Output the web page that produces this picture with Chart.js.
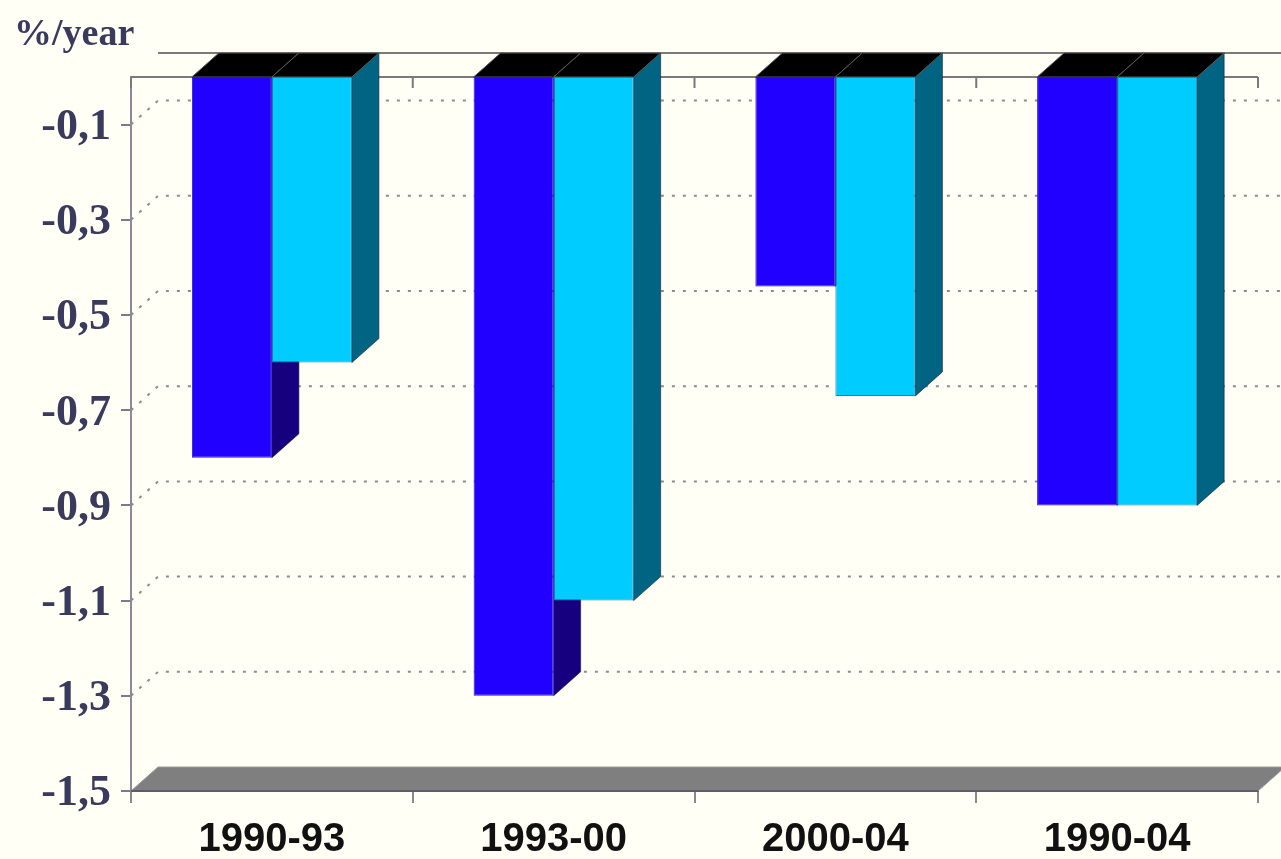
<!DOCTYPE html>
<html>
<head>
<meta charset="utf-8">
<script src="https://cdn.jsdelivr.net/npm/chart.js@4/dist/chart.umd.min.js"></script>
<style>
  html, body { margin: 0; padding: 0; background: #fffff6; }
  canvas { display: block; }
</style>
</head>
<body>
<canvas id="c" width="1281" height="859"></canvas>
<script>
// Average annual change, %/year, per period
const categories = ['1990-93', '1993-00', '2000-04', '1990-04'];
const seriesDark = [-0.80, -1.30, -0.44, -0.90];
const seriesLight = [-0.60, -1.10, -0.67, -0.90];
const yTickValues = [-0.1, -0.3, -0.5, -0.7, -0.9, -1.1, -1.3, -1.5];
const yUnit = '%/year';

// Depth of the pseudo-3D projection (pixels)
const DX = 27;
const DY = -24;

const frontColors = ['#2200ff', '#00ccff'];
const sideColors = ['#170080', '#006482'];

function fmt(v) {
  return v.toFixed(1).replace('.', ',');
}

const depthPlugin = {
  id: 'depth',
  beforeDatasetsDraw(chart) {
    const { ctx, chartArea: a, scales: { x, y } } = chart;
    const yFloor = y.getPixelForValue(y.min);
    const yZero = y.getPixelForValue(0);
    ctx.save();

    // floor
    ctx.beginPath();
    ctx.moveTo(a.left, yFloor);
    ctx.lineTo(a.right, yFloor);
    ctx.lineTo(a.right + DX, yFloor + DY);
    ctx.lineTo(a.left + DX, yFloor + DY);
    ctx.closePath();
    ctx.fillStyle = '#7f7f80';
    ctx.fill();
    ctx.strokeStyle = '#9a9a9a';
    ctx.lineWidth = 1;
    ctx.stroke();
    ctx.beginPath();
    ctx.moveTo(a.left, yFloor);
    ctx.lineTo(a.right, yFloor);
    ctx.strokeStyle = '#5c5c6c';
    ctx.lineWidth = 2;
    ctx.stroke();

    // dotted gridlines on the back wall
    ctx.setLineDash([3, 8]);
    ctx.strokeStyle = '#8c8c8c';
    ctx.lineWidth = 2;
    yTickValues.forEach(v => {
      if (v === y.min) return;
      const yf = y.getPixelForValue(v);
      ctx.beginPath();
      ctx.moveTo(a.left, yf);
      ctx.lineTo(a.left + DX, yf + DY);
      ctx.lineTo(a.right + DX, yf + DY);
      ctx.stroke();
    });
    ctx.setLineDash([]);

    // back wall top edge
    ctx.beginPath();
    ctx.moveTo(a.left + DX, yZero + DY);
    ctx.lineTo(a.right + DX, yZero + DY);
    ctx.strokeStyle = '#7a7a7a';
    ctx.lineWidth = 2;
    ctx.stroke();

    // category axis at zero, with tick marks between categories
    ctx.beginPath();
    ctx.moveTo(a.left, yZero);
    ctx.lineTo(a.right, yZero);
    for (let i = 0; i <= categories.length; i++) {
      const bx = x.getPixelForValue(i - 0.5);
      ctx.moveTo(bx, yZero);
      ctx.lineTo(bx, yZero + 11);
    }
    ctx.strokeStyle = '#7a7a7a';
    ctx.lineWidth = 2;
    ctx.stroke();

    // side faces, then top faces of every bar
    const bars = [];
    chart.data.datasets.forEach((ds, di) => {
      const meta = chart.getDatasetMeta(di);
      meta.data.forEach(el => {
        const p = el.getProps(['x', 'y', 'base', 'width'], true);
        bars.push({ di, left: p.x - p.width / 2, right: p.x + p.width / 2, top: p.base, bottom: p.y });
      });
    });
    bars.forEach(b => {
      ctx.beginPath();
      ctx.moveTo(b.right, b.top);
      ctx.lineTo(b.right + DX, b.top + DY);
      ctx.lineTo(b.right + DX, b.bottom + DY);
      ctx.lineTo(b.right, b.bottom);
      ctx.closePath();
      ctx.fillStyle = sideColors[b.di];
      ctx.fill();
      ctx.strokeStyle = 'rgba(20,20,60,0.6)';
      ctx.lineWidth = 1;
      ctx.stroke();
    });
    bars.forEach(b => {
      ctx.beginPath();
      ctx.moveTo(b.left, b.top);
      ctx.lineTo(b.right, b.top);
      ctx.lineTo(b.right + DX, b.top + DY);
      ctx.lineTo(b.left + DX, b.top + DY);
      ctx.closePath();
      ctx.fillStyle = '#000000';
      ctx.fill();
      ctx.strokeStyle = '#5a5a5a';
      ctx.lineWidth = 1;
      ctx.stroke();
    });
    ctx.restore();
  },
  afterDraw(chart) {
    const { ctx } = chart;
    ctx.save();
    ctx.font = 'bold 38px "Liberation Serif", "Times New Roman", serif';
    ctx.fillStyle = '#3a3a5c';
    ctx.textAlign = 'left';
    ctx.textBaseline = 'alphabetic';
    ctx.fillText(yUnit, 14, 45);
    ctx.restore();
  }
};

new Chart(document.getElementById('c'), {
  type: 'bar',
  data: {
    labels: categories,
    datasets: [
      {
        label: 'series 1',
        data: seriesDark,
        backgroundColor: frontColors[0],
        borderColor: '#2a14c8',
        borderWidth: 1,
        borderSkipped: false
      },
      {
        label: 'series 2',
        data: seriesLight,
        backgroundColor: frontColors[1],
        borderColor: '#1a86a8',
        borderWidth: 1,
        borderSkipped: false
      }
    ]
  },
  options: {
    responsive: false,
    animation: false,
    devicePixelRatio: 1,
    layout: { padding: { top: 77, right: 23, left: 0, bottom: 0 } },
    plugins: {
      legend: { display: false },
      tooltip: { enabled: false },
      title: { display: false }
    },
    datasets: {
      bar: { categoryPercentage: 0.568, barPercentage: 1.0 }
    },
    scales: {
      x: {
        offset: true,
        grid: {
          display: true,
          offset: true,
          drawOnChartArea: false,
          drawTicks: true,
          tickLength: 12,
          color: '#8a8a8a',
          lineWidth: 2
        },
        border: { display: true, color: '#5c5c6c', width: 2 },
        ticks: {
          font: { family: '"Liberation Sans", Arial, sans-serif', size: 40, weight: 'bold' },
          color: '#111111',
          padding: 13,
          maxRotation: 0,
          autoSkip: false
        },
        afterFit(scale) { scale.height = 68; }
      },
      y: {
        min: -1.5,
        max: 0,
        afterBuildTicks(scale) {
          scale.ticks = yTickValues.map(v => ({ value: v }));
        },
        grid: {
          display: true,
          drawOnChartArea: false,
          drawTicks: true,
          tickLength: 10,
          color: '#7a7a8a',
          lineWidth: 2
        },
        border: { display: true, color: '#8a8a9a', width: 2 },
        ticks: {
          font: { family: '"Liberation Serif", "Times New Roman", serif', size: 44, weight: 'bold' },
          color: '#3a3a5c',
          padding: 10,
          labelOffset: 3,
          callback: v => fmt(v)
        },
        afterFit(scale) { scale.width = 131; }
      }
    }
  },
  plugins: [depthPlugin]
});
</script>
</body>
</html>
